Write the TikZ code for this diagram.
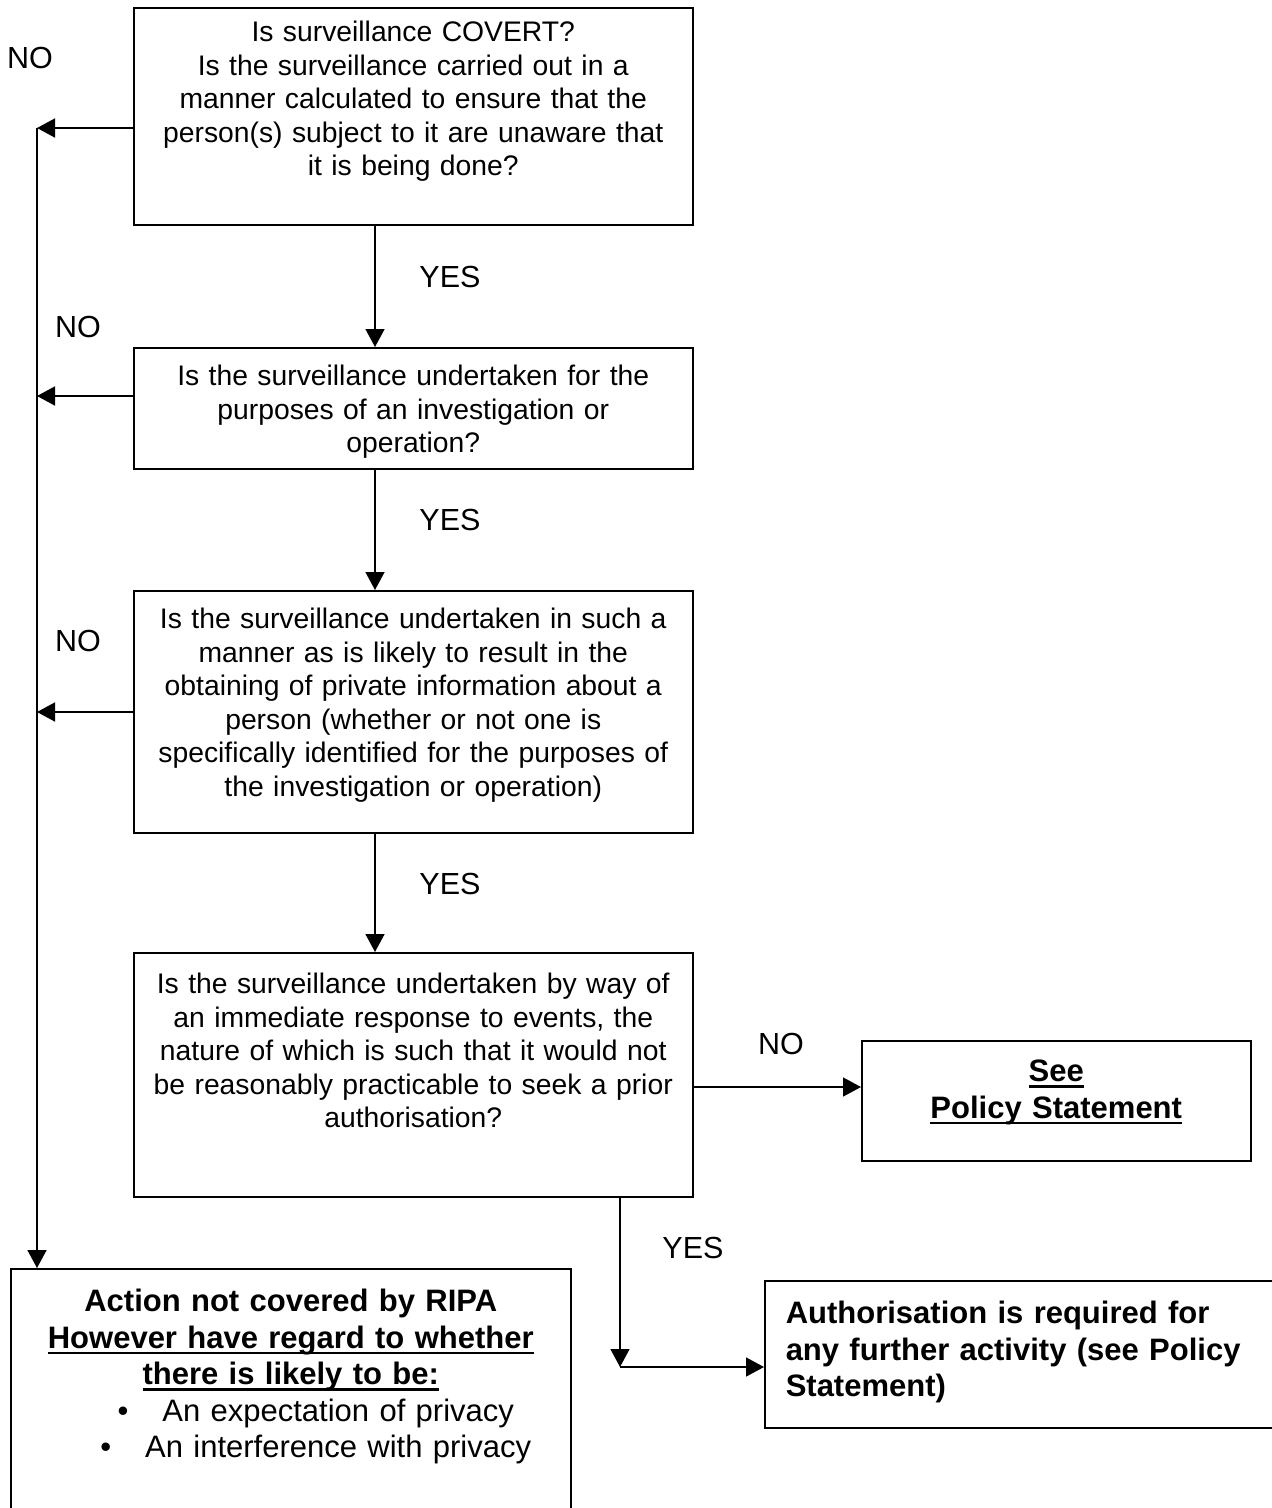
\documentclass[tikz,border=0pt]{standalone}
\usepackage{fontspec}
\setmainfont{Liberation Sans}
\usetikzlibrary{arrows.meta, positioning}

\newcommand\diafont{\fontsize{28.3pt}{33.5pt}\selectfont}
\newcommand\lblfont{\fontsize{30.5pt}{34pt}\selectfont}
\newcommand\boldfont{\fontsize{31pt}{36.5pt}\selectfont\bfseries}
\newcommand\undl[1]{\leavevmode\setbox0\hbox{#1}\rlap{\rule[-6pt]{\wd0}{2.5pt}}\box0}

\tikzset{
    qbox/.style={draw, line width=1.5pt, anchor=north west, text width=559pt,
        align=center, inner sep=0pt, font=\diafont},
    abox/.style={draw, line width=1.5pt, anchor=north west, inner ysep=0pt,
        font=\boldfont},
    lbl/.style={inner sep=0pt, font=\lblfont},
    arr/.style={line width=1.5pt, -{Triangle[length=18pt, width=19pt]}}
}

\begin{document}
\begin{tikzpicture}[x=1pt, y=-1pt]
        \useasboundingbox (0,0) rectangle (1272,1508);
        \clip (0,0) rectangle (1272,1508);

        % questions
        \node[qbox, text height=34pt, text depth=183pt] (covert) at (133,7)
            {Is surveillance COVERT?\\ Is the surveillance carried out in a\\ manner calculated to ensure that the\\ person(s) subject to it are unaware that\\ it is being done?};
        \node[qbox, text height=38pt, text depth=83pt] (purpose) at (133,347)
            {Is the surveillance undertaken for the\\ purposes of an investigation or\\ operation?};
        \node[qbox, text height=38pt, text depth=204pt] (private) at (133,590)
            {Is the surveillance undertaken in such a\\ manner as is likely to result in the\\ obtaining of private information about a\\ person (whether or not one is\\ specifically identified for the purposes of\\ the investigation or operation)};
        \node[qbox, text height=41pt, text depth=203pt] (immediate) at (133,952)
            {Is the surveillance undertaken by way of\\ an immediate response to events, the\\ nature of which is such that it would not\\ be reasonably practicable to seek a prior\\ authorisation?};

        % outcomes
        \node[abox, text width=389pt, align=center, inner xsep=0pt, text height=41pt, text depth=79pt] (policy) at (861,1040)
            {\undl{See}\\ \undl{Policy Statement}};
        \node[abox, text width=560pt, align=center, inner xsep=0pt, text height=43pt, text depth=219pt] (notripa) at (10,1268)
            {Action not covered by RIPA\\ \undl{However have regard to whether}\\ \undl{there is likely to be:}\\
             {\mdseries\hspace*{50pt}\textbullet\hspace{34pt}An expectation of privacy}\\
             {\mdseries\hspace*{50pt}\textbullet\hspace{34pt}An interference with privacy}};
        \node[abox, text width=490pt, align=left, inner xsep=21pt, text height=43pt, text depth=104pt] (auth) at (764,1280)
            {Authorisation is required for\\ any further activity (see Policy\\ Statement)};

        % labels
        \node[lbl] (no1) at (30,58) {NO};
        \node[lbl] (no2) at (78,327) {NO};
        \node[lbl] (no3) at (78,641) {NO};
        \node[lbl] (no4) at (781,1044) {NO};
        \node[lbl] (yes1) at (450,277) {YES};
        \node[lbl] (yes2) at (450,520) {YES};
        \node[lbl] (yes3) at (450,884) {YES};
        \node[lbl] (yes4) at (693,1248) {YES};

        % connectors
        \coordinate (mid) at (375,0);
        \coordinate (n1) at (37,128);
        \coordinate (n2) at (37,396);
        \coordinate (n3) at (37,712);
        \coordinate (n4) at (0,1087);
        \coordinate (turn) at (620,1367);

        \draw[arr] (covert.south -| mid) -- (purpose.north -| mid);
        \draw[arr] (purpose.south -| mid) -- (private.north -| mid);
        \draw[arr] (private.south -| mid) -- (immediate.north -| mid);

        \draw[arr] (covert.west |- n1) -- (n1);
        \draw[arr] (purpose.west |- n2) -- (n2);
        \draw[arr] (private.west |- n3) -- (n3);
        \draw[arr] (n1) -- (n1 |- notripa.north);

        \draw[arr] (immediate.east |- n4) -- (policy.west |- n4);
        \draw[arr] (immediate.south -| turn) -- (turn);
        \draw[arr] (turn) -- (turn -| auth.west);
\end{tikzpicture}
\end{document}
